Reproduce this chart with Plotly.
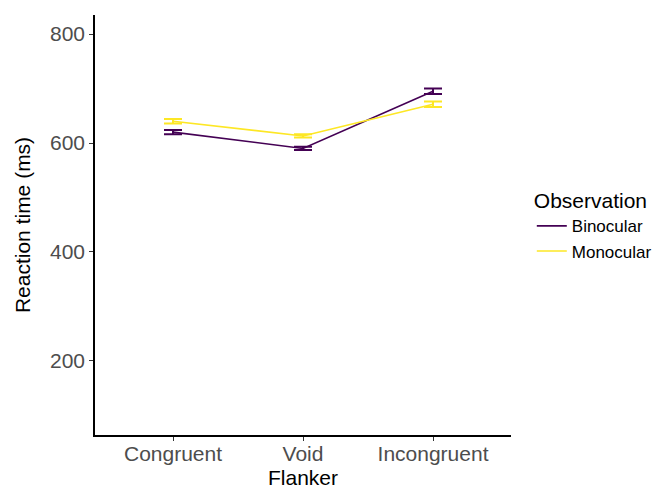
import plotly.graph_objects as go

categories = ["Congruent", "Void", "Incongruent"]
binocular = [620, 590, 695]
binocular_err = [4, 3, 5]
monocular = [640, 613, 671]
monocular_err = [4, 3, 5]
y_ticks = [200, 400, 600, 800]

colors = {"Binocular": "#440154", "Monocular": "#FDE725"}
xpos = [1, 2, 3]

fig = go.Figure()
for name, vals, errs in [("Binocular", binocular, binocular_err),
                         ("Monocular", monocular, monocular_err)]:
    fig.add_trace(go.Scatter(
        x=xpos, y=vals, mode="lines", name=name,
        line=dict(color=colors[name], width=1.6),
        error_y=dict(type="data", array=errs, visible=True,
                     color=colors[name], thickness=2, width=9),
    ))

font = "Liberation Sans, Arial, sans-serif"
fig.update_layout(
    width=657, height=488,
    margin=dict(l=95, r=146, t=15, b=53, autoexpand=False),
    paper_bgcolor="white", plot_bgcolor="white",
    font=dict(family=font, color="black"),
    showlegend=True,
    legend=dict(
        title=dict(text="Observation", font=dict(size=21, color="black")),
        font=dict(size=17, color="black"),
        x=1.05, xanchor="left", y=0.5, yanchor="middle",
        tracegroupgap=0, itemwidth=30,
    ),
    xaxis=dict(
        range=[0.4, 3.6], tickmode="array", tickvals=xpos, ticktext=categories,
        showline=True, linecolor="black", linewidth=1.5, showgrid=False, zeroline=False,
        ticks="outside", ticklen=4, tickcolor="#333333", tickwidth=1,
        tickfont=dict(size=21, color="#4D4D4D"), automargin=False,
        ticklabelstandoff=-5,
    ),
    yaxis=dict(
        range=[64, 835], tickmode="array", tickvals=y_ticks,
        showline=True, linecolor="black", linewidth=1.5, showgrid=False, zeroline=False,
        ticks="outside", ticklen=4, tickcolor="#333333", tickwidth=1,
        tickfont=dict(size=21, color="#4D4D4D"), automargin=False,
        title=dict(text="Reaction time (ms)", font=dict(size=21, color="black"), standoff=14),
    ),
    annotations=[dict(
        text="Flanker", x=0.5, xref="paper", y=0, yref="paper",
        showarrow=False, font=dict(size=21, color="black"),
        xanchor="center", yanchor="middle",
    )],
)
# x-axis title annotation placed at pixel row ~477 (converted to paper coords)
plot_h = 488 - 15 - 53
fig.layout.annotations[0].y = (488 - 53 - 477) / plot_h

fig.write_html("out.html")
